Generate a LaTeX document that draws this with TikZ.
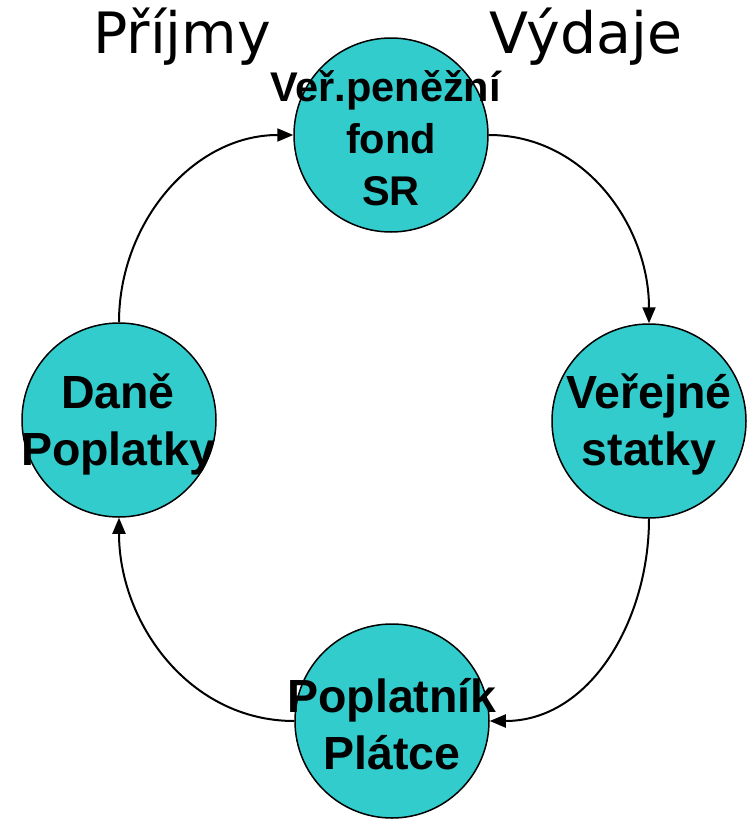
\documentclass[tikz,border=0pt]{standalone}
\usepackage{fontspec}
\setmainfont{Liberation Sans}
\newfontfamily\titlefont{DejaVu Sans}
\usetikzlibrary{arrows.meta}
\definecolor{fundcyan}{RGB}{51,204,204}
\begin{document}
\begin{tikzpicture}[x=1pt,y=-1pt,
  ball/.style={circle,draw=black,line width=1.5pt,fill=fundcyan,minimum size=194pt,inner sep=0pt},
  balltext/.style={align=center,font=\fontsize{46.5}{57}\selectfont\bfseries,inner sep=0pt},
  flow/.style={line width=2pt,-{Triangle[length=16pt,width=13pt]}},
  heading/.style={font=\titlefont\fontsize{57}{64}\selectfont,inner sep=0pt,anchor=base west}]
\fill[white] (0,0) rectangle (749,819);
\useasboundingbox (0,0) rectangle (749,819);
\node[ball] (top) at (391,135) {};
\node[ball] (left) at (119,420) {};
\node[ball] (right) at (649,421) {};
\node[ball] (bottom) at (392,721) {};
\draw[flow] (left.north) to[out=90,in=180] (top.west);
\draw[flow] (top.east) to[out=0,in=90] (right.north);
\draw[flow] (right.south) to[out=270,in=0] (bottom.east);
\draw[flow] (bottom.west) to[out=180,in=270] (left.south);
\node[balltext,font=\fontsize{41.5}{52}\selectfont\bfseries] (topT) at (391,138) {Veř.peněžní\kern11pt\\fond\\SR};
\node[balltext] (leftT) at (118,424) {Daně\\Poplatky};
\node[balltext] (rightT) at (649,424) {Veřejné\\statky};
\node[balltext] (bottomT) at (392,724) {Poplatník\\Plátce};
\node[heading] (inc) at (93,53) {Příjmy};
\node[heading] (exp) at (489,53) {Výdaje};
\end{tikzpicture}
\end{document}
